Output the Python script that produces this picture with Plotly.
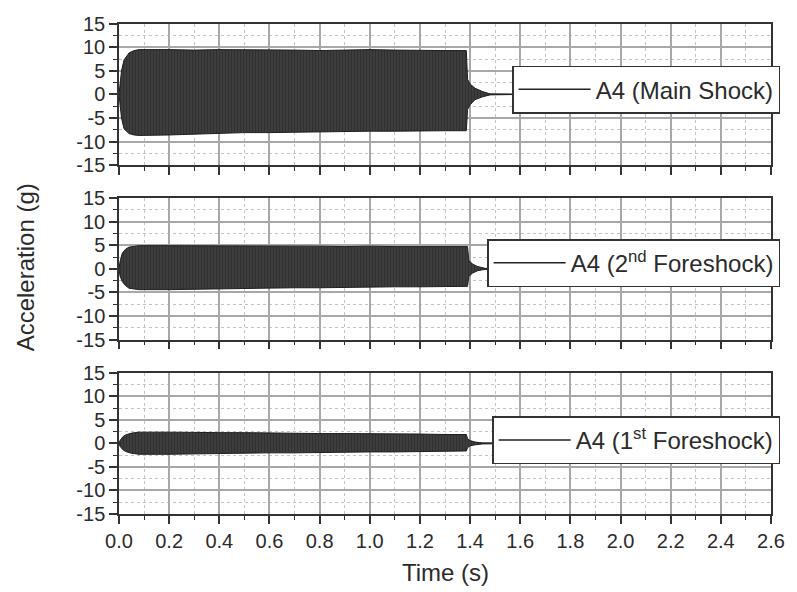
import plotly.graph_objects as go

# ---- data (envelope of the acceleration records) ----
t_main = [0.0, 0.004, 0.01, 0.02, 0.04, 0.06, 0.08, 0.2, 0.3, 0.4, 0.5, 0.6, 0.7, 0.8, 0.9, 1.0,
          1.1, 1.2, 1.3, 1.385, 1.39, 1.40, 1.42, 1.45, 1.48, 1.6]
up_main = [0.0, 2.5, 5.0, 7.3, 8.8, 9.3, 9.5, 9.5, 9.4, 9.5, 9.5, 9.4, 9.4, 9.3, 9.4, 9.5,
           9.4, 9.3, 9.3, 9.3, 3.2, 2.2, 1.3, 0.6, 0.1, 0.0]
lo_main = [0.0, -2.5, -5.0, -7.3, -8.3, -8.6, -8.7, -8.6, -8.4, -8.2, -8.1, -8.1, -8.0, -8.0, -7.8, -7.8,
           -7.8, -7.7, -7.7, -7.7, -3.2, -2.2, -1.1, -0.5, -0.1, 0.0]

t_fs2 = [0.0, 0.004, 0.013, 0.025, 0.04, 0.06, 0.08, 0.2, 0.3, 0.4, 0.5, 0.6, 0.7, 0.8, 0.9, 1.0,
         1.1, 1.2, 1.3, 1.39, 1.395, 1.41, 1.43, 1.46, 1.6]
up_fs2 = [0.0, 1.5, 3.3, 4.1, 4.6, 4.8, 4.9, 4.9, 4.9, 4.8, 4.8, 4.8, 4.8, 4.8, 4.7, 4.8,
          4.7, 4.7, 4.7, 4.7, 1.8, 1.0, 0.5, 0.1, 0.0]
lo_fs2 = [0.0, -1.5, -2.7, -3.5, -4.1, -4.3, -4.4, -4.4, -4.3, -4.2, -4.1, -4.1, -4.0, -4.0, -3.9, -3.9,
          -3.8, -3.8, -3.7, -3.7, -1.6, -0.9, -0.4, -0.1, 0.0]

t_fs1 = [0.0, 0.004, 0.015, 0.026, 0.05, 0.08, 0.2, 0.3, 0.4, 0.5, 0.6, 0.7, 0.8, 0.9, 1.0,
         1.1, 1.2, 1.3, 1.385, 1.39, 1.40, 1.42, 1.45, 1.6]
up_fs1 = [0.0, 0.6, 1.4, 1.8, 2.2, 2.4, 2.4, 2.3, 2.3, 2.3, 2.2, 2.2, 2.1, 2.1, 2.1,
          2.0, 2.0, 1.9, 1.9, 1.0, 0.6, 0.3, 0.1, 0.0]
lo_fs1 = [0.0, -0.6, -1.3, -1.7, -2.1, -2.3, -2.3, -2.2, -2.2, -2.1, -2.0, -2.0, -1.9, -1.9, -1.8,
          -1.8, -1.7, -1.7, -1.6, -0.9, -0.5, -0.3, -0.1, 0.0]

names = ["A4 (Main Shock)", "A4 (2<sup>nd</sup> Foreshock)", "A4 (1<sup>st</sup> Foreshock)"]

x_ticks = [0.0, 0.2, 0.4, 0.6, 0.8, 1.0, 1.2, 1.4, 1.6, 1.8, 2.0, 2.2, 2.4, 2.6]
y_ticks = [-15, -10, -5, 0, 5, 10, 15]
y_tick_text = ["-15", "-10", "-5", "0", "5", "10", "15"]

# ---- figure ----
FONT = "Liberation Sans, Arial, sans-serif"
TXT = "#2b2b2b"
BAND = "#1e1e1e"

series = [(t_main, up_main, lo_main), (t_fs2, up_fs2, lo_fs2), (t_fs1, up_fs1, lo_fs1)]
fig = go.Figure()
for i, (t, up, lo) in enumerate(series):
    sfx = "" if i == 0 else str(i + 1)
    xa, ya = "x" + sfx, "y" + sfx
    leg = "legend" + sfx
    fig.add_trace(go.Scatter(x=t, y=up, mode="lines", line=dict(color=BAND, width=1),
                             xaxis=xa, yaxis=ya, showlegend=False, hoverinfo="skip"))
    fig.add_trace(go.Scatter(x=t, y=lo, mode="lines", line=dict(color=BAND, width=1),
                             fill="tonexty",
                             fillpattern=dict(shape="|", size=3, solidity=0.7,
                                              fgcolor="#141414", bgcolor="#4c4c4c"),
                             xaxis=xa, yaxis=ya, showlegend=False, hoverinfo="skip"))
    fig.add_trace(go.Scatter(x=[None], y=[None], mode="lines", line=dict(color="#222", width=1.5),
                             name=names[i], xaxis=xa, yaxis=ya, legend=leg, showlegend=True))

domains = [[0.7105, 0.9986], [0.3549, 0.6437], [0.0, 0.2874]]
leg_y = [0.8644, 0.5111, 0.1498]

layout = dict(
    width=797, height=592,
    margin=dict(l=119, r=17, t=20, b=78),
    paper_bgcolor="white", plot_bgcolor="white",
    font=dict(family=FONT, color=TXT, size=20),
)

for i in range(3):
    sfx = "" if i == 0 else str(i + 1)
    xkey, ykey = "xaxis" + sfx, "yaxis" + sfx
    layout[xkey] = dict(
        domain=[0, 1], anchor="y" + sfx, range=[0, 2.6],
        tickvals=x_ticks, tickformat=".1f", showticklabels=(i == 2),
        ticks="outside", ticklen=8, tickwidth=1.5, tickcolor="#333",
        showline=True, linecolor="#333", linewidth=1.5, mirror=True,
        showgrid=True, gridcolor="#a8a8a8", gridwidth=1.5, zeroline=False,
        minor=dict(dtick=0.1, tick0=0, ticks="outside", ticklen=4, tickwidth=1.2, tickcolor="#333",
                   showgrid=True, gridcolor="#c4c4c4", gridwidth=1, griddash="dot"),
        tickfont=dict(size=20, color=TXT),
    )
    if i < 2:
        layout[xkey]["matches"] = "x3"
    layout[ykey] = dict(
        domain=domains[i], anchor="x" + sfx, range=[-15, 15],
        tickvals=y_ticks, ticktext=y_tick_text,
        ticks="outside", ticklen=8, tickwidth=1.5, tickcolor="#333",
        showline=True, linecolor="#333", linewidth=1.5, mirror=True,
        showgrid=True, gridcolor="#a8a8a8", gridwidth=1.5, zeroline=False,
        minor=dict(dtick=2.5, tick0=0, ticks="outside", ticklen=4, tickwidth=1.2, tickcolor="#333",
                   showgrid=True, gridcolor="#c4c4c4", gridwidth=1, griddash="dot"),
        tickfont=dict(size=20, color=TXT),
    )
    layout["legend" + sfx] = dict(
        x=1.014, xanchor="right", y=leg_y[i], yanchor="middle",
        xref="paper", yref="paper",
        bgcolor="white", bordercolor="#333", borderwidth=1.5,
        font=dict(size=24, color=TXT, family=FONT),
        itemwidth=72,
    )

layout["annotations"] = [
    dict(text="Acceleration (g)", textangle=-90, xref="paper", yref="paper",
         x=-0.1437, y=0.503, xanchor="center", yanchor="middle", showarrow=False,
         font=dict(size=24, color=TXT, family=FONT)),
    dict(text="Time (s)", xref="paper", yref="paper",
         x=0.5, y=-0.1194, xanchor="center", yanchor="middle", showarrow=False,
         font=dict(size=24, color=TXT, family=FONT)),
]

fig.update_layout(**layout)
fig.write_html("out.html")
